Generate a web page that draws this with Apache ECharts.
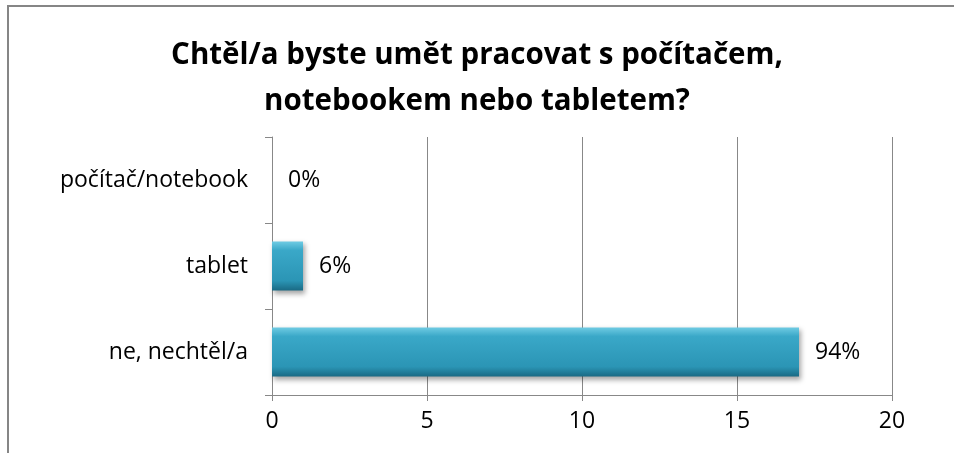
<!DOCTYPE html>
<html>
<head>
<meta charset="utf-8">
<script src="https://cdn.jsdelivr.net/npm/echarts@6/dist/echarts.min.js"></script>
<style>
  html, body { margin: 0; padding: 0; background: #fff; }
  #chart { width: 954px; height: 453px; }
</style>
</head>
<body>
<div id="chart"></div>
<script>
// data (bottom to top, like the category axis)
const categories = ["ne, nechtěl/a", "tablet", "počítač/notebook"];
const counts = [17, 1, 0];
const percentLabels = ["94%", "6%", "0%"];
const xTicks = [0, 5, 10, 15, 20];

const font = "'Open Sans', 'Noto Sans', sans-serif";

const chart = echarts.init(document.getElementById("chart"));
chart.setOption({
  animation: false,
  title: {
    text: "Chtěl/a byste umět pracovat s počítačem,\nnotebookem nebo tabletem?",
    left: "center",
    top: 28,
    textStyle: {
      fontFamily: font,
      fontWeight: "bold",
      fontSize: 29.5,
      lineHeight: 46,
      color: "#000",
    },
  },
  graphic: [
    {
      type: "rect",
      shape: { x: 8, y: 6, width: 960, height: 470 },
      style: { fill: null, stroke: "#868686", lineWidth: 2 },
      silent: true,
    },
  ],
  grid: {
    left: 272,
    right: 62,
    top: 137,
    bottom: 58,
    containLabel: false,
  },
  xAxis: {
    type: "value",
    min: xTicks[0],
    max: xTicks[xTicks.length - 1],
    interval: 5,
    axisLine: { show: true, lineStyle: { color: "#888", width: 1 } },
    axisTick: { show: true, length: 6, lineStyle: { color: "#888" } },
    splitLine: { show: true, lineStyle: { color: "#888", width: 1 } },
    axisLabel: {
      fontFamily: font,
      fontSize: 23,
      color: "#000",
      margin: 15,
    },
  },
  yAxis: {
    type: "category",
    data: categories,
    axisLine: { show: true, lineStyle: { color: "#888", width: 1 } },
    axisTick: { show: true, length: 7, lineStyle: { color: "#888" } },
    axisLabel: {
      fontFamily: font,
      fontSize: 23,
      color: "#000",
      margin: 24,
    },
  },
  series: [
    {
      type: "bar",
      data: counts,
      barWidth: "57%",
      itemStyle: {
        color: {
          type: "linear",
          x: 0, y: 0, x2: 0, y2: 1,
          colorStops: [
            { offset: 0, color: "#6fcbe3" },
            { offset: 0.18, color: "#3aa8c8" },
            { offset: 0.8, color: "#2b95b5" },
            { offset: 1, color: "#1a6a84" },
          ],
        },
        borderWidth: 0,
        shadowColor: "rgba(0,0,0,0.35)",
        shadowBlur: 5,
        shadowOffsetX: 2,
        shadowOffsetY: 3,
      },
      label: {
        show: true,
        position: "right",
        distance: 16,
        fontFamily: font,
        fontSize: 23,
        color: "#000",
        formatter: (p) => percentLabels[p.dataIndex],
      },
    },
  ],
});
</script>
</body>
</html>
